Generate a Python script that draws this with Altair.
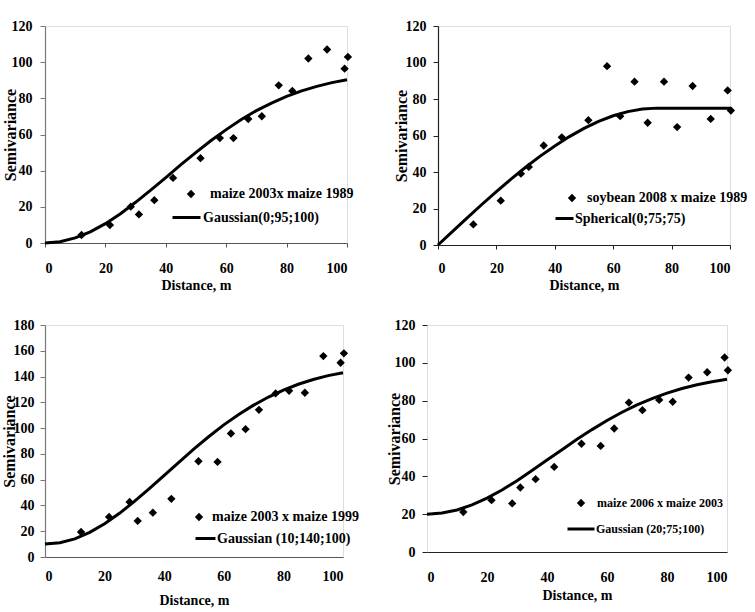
import altair as alt
import pandas as pd

# Lag distances (m) of the empirical semivariogram points, shared by all panels
lag_m = [12.1, 21.5, 28.4, 31.1, 36.2, 42.4, 51.5, 57.9, 62.4, 67.3, 71.8,
         77.4, 81.9, 87.2, 93.4, 99.2, 100.3]

# Empirical semivariances
sv_m03_m89 = [4.4, 9.9, 20.1, 15.8, 23.7, 36.0, 46.9, 58.0, 58.0, 68.6, 70.1,
              87.2, 84.1, 102.0, 107.0, 96.4, 102.9]
sv_s08_m89 = [11.3, 24.3, 39.1, 42.8, 54.5, 59.0, 68.4, 98.0, 70.6, 89.5, 67.0,
              89.5, 64.6, 87.1, 69.1, 84.7, 73.7]
sv_m03_m99 = [19.4, 31.1, 42.7, 28.0, 34.4, 45.1, 74.3, 73.8, 95.8, 99.2, 114.2,
              126.9, 129.0, 127.4, 155.9, 150.7, 158.0]
sv_m06_m03 = [21.1, 27.4, 25.7, 34.1, 38.5, 45.0, 57.2, 56.1, 65.3, 79.0, 75.0,
              80.4, 79.4, 92.2, 95.0, 102.8, 96.1]

# Fitted model curves, sampled every 5 m
fit_h = [0, 5, 10, 15, 20, 25, 30, 35, 40, 45, 50, 55, 60, 65, 70, 75, 80, 85,
         90, 95, 100]
fit_gauss_0_95 = [0, 0.7, 2.8, 6.2, 10.7, 16.2, 22.5, 29.2, 36.2, 43.3, 50.1,
                  56.7, 62.7, 68.3, 73.2, 77.4, 81.1, 84.1, 86.6, 88.7, 90.3]
fit_sph_0_75 = [0, 7.5, 14.9, 22.2, 29.3, 36.1, 42.6, 48.7, 54.3, 59.4, 63.9,
                67.7, 70.8, 73.1, 74.5, 75, 75, 75, 75, 75, 75]
fit_gauss_10_140 = [10, 11.1, 14.1, 19.1, 25.8, 33.9, 43.1, 53.1, 63.4, 73.7,
                    83.9, 93.5, 102.5, 110.6, 117.8, 124.1, 129.5, 134.0, 137.7,
                    140.7, 143.0]
fit_gauss_20_75 = [20, 20.6, 22.2, 24.9, 28.5, 32.8, 37.7, 43.1, 48.6, 54.1,
                   59.6, 64.7, 69.5, 73.9, 77.8, 81.1, 84.0, 86.4, 88.4, 90.0,
                   91.3]

FONT = "Liberation Serif"


def panel(obs, fit, obs_label, fit_label, ymax, w, h, sty):
    obs_df = pd.DataFrame({"h": lag_m, "g": obs, "series": obs_label})
    fit_df = pd.DataFrame({"h": fit_h, "g": fit, "model": fit_label})

    x_axis = alt.Axis(
        values=[0, 20, 40, 60, 80, 100], grid=False, title="Distance, m",
        labelOverlap=False,
        ticks=sty["xticks"], tickSize=4 if sty["xticks"] else 0,
        tickColor=sty["xdom"], domainColor=sty["xdom"], domainWidth=1.2,
        labelFont=FONT, labelFontSize=14, labelFontWeight="bold",
        labelColor="black", labelPadding=sty["xlp"],
        titleFont=FONT, titleFontSize=14, titleFontWeight="bold",
        titleColor="black", titlePadding=sty["xtp"],
    )
    y_axis = alt.Axis(
        values=list(range(0, ymax + 1, 20)), grid=False, title="Semivariance",
        labelOverlap=False,
        domain=sty["ydomain"], tickSize=5, tickColor=sty["ydom"],
        domainColor=sty["ydom"], domainWidth=1.2,
        labelFont=FONT, labelFontSize=14, labelFontWeight="bold",
        labelColor="black", labelPadding=sty["ylp"],
        titleFont=FONT, titleFontSize=16, titleFontWeight="bold",
        titleColor="black", titlePadding=sty["ytp"],
    )
    xs = alt.Scale(domain=[0, 100], nice=False, zero=False)
    ys = alt.Scale(domain=[0, ymax], nice=False)

    lx, ly, lo, fs = sty["pleg"]
    pts = alt.Chart(obs_df).mark_point(
        filled=True, color="black", opacity=1, size=70
    ).encode(
        x=alt.X("h:Q", scale=xs, axis=x_axis),
        y=alt.Y("g:Q", scale=ys, axis=y_axis),
        shape=alt.Shape(
            "series:N",
            scale=alt.Scale(domain=[obs_label], range=["diamond"]),
            legend=alt.Legend(
                orient="none", legendX=lx, legendY=ly, title=None, padding=0,
                symbolSize=70, symbolFillColor="black",
                symbolStrokeColor="black", labelOffset=lo, labelLimit=300,
                labelFont=FONT, labelFontSize=fs, labelFontWeight="bold",
                labelColor="black",
            ),
        ),
    )

    mx, my, mo, mlen, mfs = sty["lleg"]
    crv = alt.Chart(fit_df).mark_line(strokeWidth=3).encode(
        x=alt.X("h:Q", scale=xs, axis=x_axis),
        y=alt.Y("g:Q", scale=ys, axis=y_axis),
        color=alt.Color(
            "model:N",
            scale=alt.Scale(domain=[fit_label], range=["black"]),
            legend=alt.Legend(
                orient="none", legendX=mx, legendY=my, title=None, padding=0,
                symbolType="stroke", symbolSize=mlen * mlen,
                symbolStrokeWidth=3, symbolStrokeColor="black",
                labelOffset=mo, labelLimit=300,
                labelFont=FONT, labelFontSize=mfs, labelFontWeight="bold",
                labelColor="black",
            ),
        ),
    )
    return (pts + crv).properties(width=w, height=h)


p1 = panel(sv_m03_m89, fit_gauss_0_95, "maize 2003x maize 1989",
           "Gaussian(0;95;100)", 120, 302, 217,
           dict(xticks=True, xdom="#555", ydom="#777", ydomain=True,
                xlp=14, xtp=3, ylp=8, ytp=-7,
                pleg=(139, 161, 12, 14), lleg=(126, 176, 1, 28, 14)))
p2 = panel(sv_s08_m89, fit_sph_0_75, "soybean 2008 x maize 1989",
           "Spherical(0;75;75)", 120, 292, 219,
           dict(xticks=True, xdom="#222", ydom="#222", ydomain=True,
                xlp=12, xtp=3, ylp=7, ytp=-4,
                pleg=(127, 165, 8, 14), lleg=(116, 182, 0, 18, 14)))
p3 = panel(sv_m03_m99, fit_gauss_10_140, "maize 2003 x maize 1999",
           "Gaussian (10;140;100)", 180, 298, 232,
           dict(xticks=False, xdom="#555", ydom="#777", ydomain=True,
                xlp=12, xtp=10, ylp=6, ytp=-4,
                pleg=(147, 185, 6, 14), lleg=(149, 202, 0, 20, 14)))
p4 = panel(sv_m06_m03, fit_gauss_20_75, "maize 2006 x maize 2003",
           "Gaussian (20;75;100)", 120, 300, 227,
           dict(xticks=False, xdom="#222", ydom="#222", ydomain=False,
                xlp=18, xtp=4, ylp=7, ytp=-8,
                pleg=(148, 172, 10, 12), lleg=(139, 189, 0, 27, 12)))

ind = dict(shape="independent", color="independent")
top = alt.hconcat(p1, p2, spacing=37).resolve_scale(**ind)
bottom = alt.hconcat(p3, p4, spacing=25).resolve_scale(**ind)

chart = (
    alt.vconcat(top, bottom, spacing=24)
    .resolve_scale(**ind)
    .properties(padding={"left": 0, "top": 18, "right": 0, "bottom": 0})
    .configure_view(stroke=None)
    .configure(background="white")
)

chart.save("out.html", embed_options={"renderer": "svg", "actions": False})
